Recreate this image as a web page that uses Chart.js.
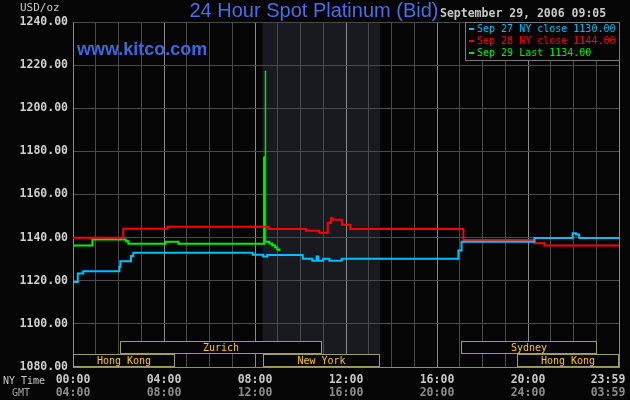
<!DOCTYPE html>
<html>
<head>
<meta charset="utf-8">
<script src="https://cdn.jsdelivr.net/npm/chart.js@4"></script>
<style>
  html, body { margin: 0; padding: 0; background: #050506; }
  #wrap { width: 630px; height: 400px; position: relative; }
</style>
</head>
<body>
<div id="wrap"><canvas id="platina"></canvas></div>
<script>
// horas (NY) e valores
const horasSep27 = [0, 0.21, 0.45, 2.04, 2.08, 2.55, 2.65, 7.9, 8.36, 8.54, 10.1, 10.52, 10.71, 10.78, 11.0, 11.27, 11.81, 16.94, 17.08, 20.28, 21.96, 22.11, 22.25, 24];
const valoresSep27 = [1119.4, 1123.4, 1124.4, 1126.5, 1129, 1131.5, 1133, 1132.1, 1131.2, 1132, 1130.2, 1129.3, 1131.2, 1129.3, 1130.2, 1129.3, 1130.2, 1134, 1138.1, 1139.8, 1142, 1141.4, 1139.8, 1139.8];

const horasSep28 = [0, 2.21, 4.15, 8.58, 10.24, 10.83, 11.2, 11.34, 11.4, 11.82, 12.19, 17.16, 20.28, 20.72, 24];
const valoresSep28 = [1140, 1144.1, 1145, 1144, 1143.2, 1142.3, 1146.9, 1149.1, 1148.3, 1146, 1144, 1138.9, 1137.4, 1136.3, 1136.3];

const horasSep29 = [0, 0.85, 2.32, 2.43, 4.07, 4.63, 8.4, 8.45, 8.47, 8.63, 8.76, 8.89, 8.98, 9.07];
const valoresSep29 = [1136.3, 1139.1, 1138.3, 1137.2, 1138.1, 1137.2, 1177.5, 1217.3, 1138.1, 1137.3, 1136.3, 1135.4, 1134.5, 1133.8];

const legendas = ['Sep 27 NY close 1130.00', 'Sep 28 NY close 1144.00', 'Sep 29 Last 1134.00'];
const cores = ['#00bfff', '#ff0000', '#00f000'];

const ticksNY = ['00:00', '04:00', '08:00', '12:00', '16:00', '20:00', '23:59'];
const ticksGMT = ['04:00', '08:00', '12:00', '16:00', '20:00', '24:00', '03:59'];
const ticksHoras = [0, 4, 8, 12, 16, 20, 24];

// mercados: nome, início, fim, linha (0 = de baixo)
const mercados = ['Hong Kong', 'Zurich', 'New York', 'Sydney', 'Hong Kong'];
const mercadoInicio = [0, 2.05, 8.33, 17.05, 19.5];
const mercadoFim = [4.48, 10.95, 13.5, 23.05, 24];
const mercadoLinha = [0, 1, 0, 1, 0];

const sessaoNY = [8.33, 13.5];

function pontos(horas, valores) {
    return horas.map((h, i) => ({ x: h, y: valores[i] }));
}

const mono = '"DejaVu Sans Mono", monospace';

const decoracao = {
    id: 'decoracao',
    beforeDraw(chart) {
        const { ctx, chartArea: a, scales: { x } } = chart;
        ctx.save();
        ctx.fillStyle = '#050506';
        ctx.fillRect(0, 0, chart.width, chart.height);
        const x0 = x.getPixelForValue(sessaoNY[0]);
        const x1 = x.getPixelForValue(sessaoNY[1]);
        ctx.fillStyle = '#191a1f';
        ctx.fillRect(x0, a.top, x1 - x0, a.bottom - a.top);
        ctx.restore();
    },
    afterDraw(chart) {
        const { ctx, chartArea: a, scales: { x } } = chart;
        ctx.save();

        // textos do topo
        ctx.textBaseline = 'middle';
        ctx.fillStyle = '#c8c8c8';
        ctx.font = '11px ' + mono;
        ctx.textAlign = 'left';
        ctx.fillText('USD/oz', 20, 8);
        ctx.font = 'bold 11.5px ' + mono;
        ctx.fillText('September 29, 2006 09:05', 440, 14);

        ctx.fillStyle = '#4a6ee6';
        ctx.font = '20px "Liberation Sans", Arial, sans-serif';
        ctx.textAlign = 'center';
        ctx.fillText('24 Hour Spot Platinum (Bid)', 314, 11);

        ctx.fillStyle = '#3f66e0';
        ctx.font = 'bold 18px "Liberation Sans", Arial, sans-serif';
        ctx.textAlign = 'left';
        ctx.fillText('www.kitco.com', 77, 50);

        // legenda
        ctx.fillStyle = '#050506';
        ctx.fillRect(465, 22, 155, 39);
        ctx.strokeStyle = '#7a7a7a';
        ctx.lineWidth = 1;
        ctx.strokeRect(465.5, 22.5, 154, 38);
        ctx.font = '10px ' + mono;
        legendas.forEach((t, i) => {
            const y = 29 + i * 12;
            ctx.fillStyle = cores[i];
            ctx.fillRect(469, y - 1, 5, 2);
            ctx.fillText(t, 477, y);
        });

        // mercados
        ctx.font = '10px ' + mono;
        ctx.textAlign = 'center';
        mercados.forEach((m, i) => {
            const xa = Math.round(x.getPixelForValue(mercadoInicio[i]));
            const xb = Math.round(x.getPixelForValue(mercadoFim[i]));
            const yb = mercadoLinha[i] === 0 ? a.bottom - 13 : a.bottom - 26;
            ctx.fillStyle = '#050506';
            ctx.fillRect(xa, yb, xb - xa, 13);
            ctx.strokeStyle = '#a09c6a';
            ctx.strokeRect(xa + 0.5, yb + 0.5, xb - xa - 1, 12);
            ctx.fillStyle = '#ffc61e';
            ctx.fillText(m, (xa + xb) / 2, yb + 7);
        });

        // eixo x em duas linhas
        ctx.font = '10px ' + mono;
        ctx.textAlign = 'left';
        ctx.fillStyle = '#c8c8c8';
        ctx.fillText('NY Time', 3, 381);
        ctx.fillStyle = '#a8a8a8';
        ctx.fillText('GMT', 12, 393);
        ctx.font = 'bold 11.5px ' + mono;
        ctx.textAlign = 'center';
        ticksHoras.forEach((h, i) => {
            let px = x.getPixelForValue(h);
            if (i === ticksHoras.length - 1) px -= 11;
            ctx.fillStyle = '#c8c8c8';
            ctx.fillText(ticksNY[i], px, 380);
            ctx.fillStyle = '#8c8c8c';
            ctx.fillText(ticksGMT[i], px, 393);
        });

        ctx.restore();
    }
};

function larguraSegmento(c) {
    return (c.p0.parsed.y > 1170 || c.p1.parsed.y > 1200) ? 1 : 2;
}

new Chart(document.getElementById('platina'), {
    type: 'line',
    data: {
        datasets: [
            { label: legendas[0], data: pontos(horasSep27, valoresSep27), borderColor: cores[0] },
            { label: legendas[1], data: pontos(horasSep28, valoresSep28), borderColor: cores[1] },
            { label: legendas[2], data: pontos(horasSep29, valoresSep29), borderColor: cores[2],
              segment: { borderWidth: larguraSegmento } }
        ].map(d => Object.assign({ stepped: true, borderWidth: 2, pointRadius: 0, fill: false }, d))
    },
    options: {
        responsive: true,
        maintainAspectRatio: false,
        animation: false,
        layout: { padding: { top: 22, right: 11, bottom: 33, left: 0 } },
        plugins: { legend: { display: false }, tooltip: { enabled: false } },
        scales: {
            x: {
                type: 'linear',
                min: 0,
                max: 24,
                afterFit: s => { s.height = 0; },
                ticks: { display: false, stepSize: 1 },
                grid: {
                    color: c => (c.tick && c.tick.value % 4 === 0) ? '#8a8a8a' : '#4a4a4a',
                    lineWidth: 1,
                    drawTicks: false
                },
                border: { color: '#8a8a8a' }
            },
            y: {
                min: 1080,
                max: 1240,
                afterFit: s => { s.width = 73; },
                ticks: {
                    stepSize: 20,
                    color: '#d0d0d0',
                    padding: 5,
                    font: { family: mono, size: 11.5, weight: 'bold' },
                    callback: v => v.toFixed(2)
                },
                grid: { color: '#4a4a4a', drawTicks: false },
                border: { color: '#8a8a8a' }
            }
        }
    },
    plugins: [decoracao]
});
</script>
</body>
</html>
